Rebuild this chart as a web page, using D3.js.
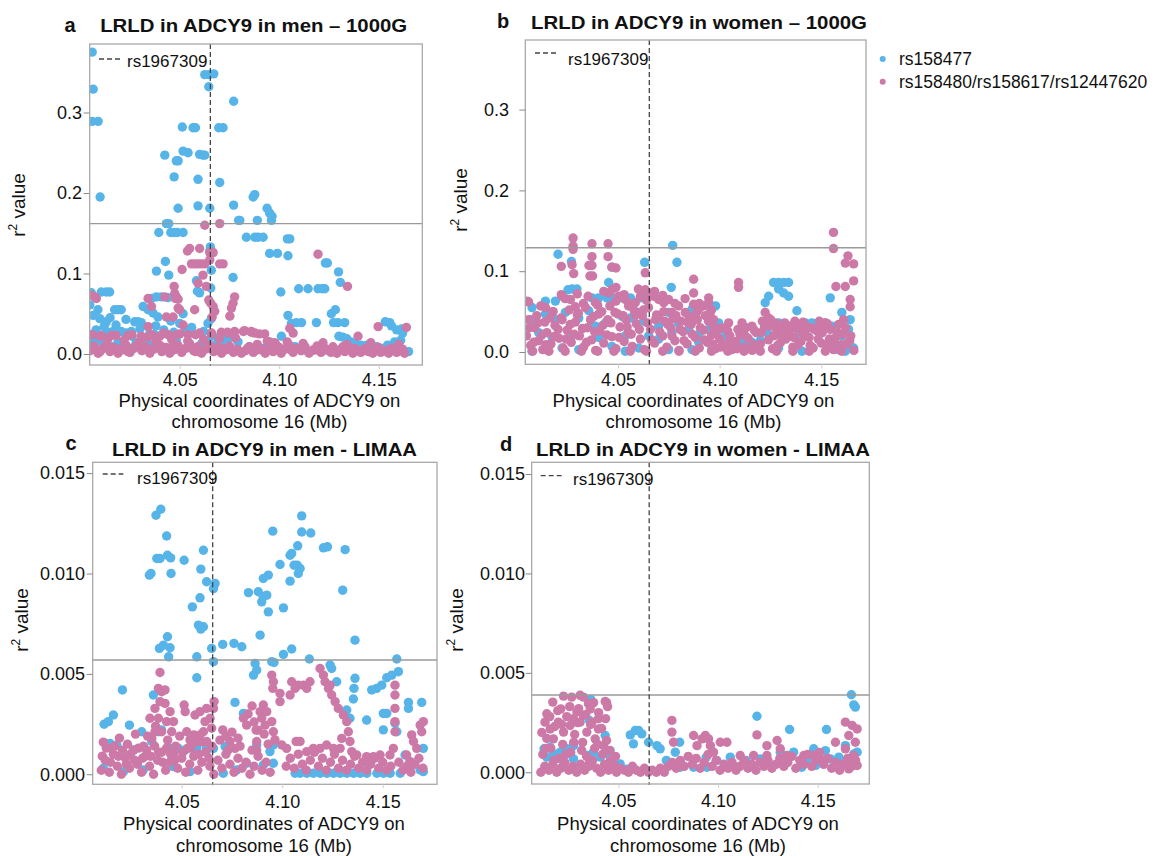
<!DOCTYPE html>
<html><head><meta charset="utf-8">
<script src="https://cdn.jsdelivr.net/npm/d3@7"></script>
<style>
html,body{margin:0;padding:0;background:#fff;}
svg text{font-family:"Liberation Sans",Arial,Helvetica,sans-serif;fill:#111;}
</style></head>
<body><svg id="chart" width="1156" height="856"></svg>
<script>
// ---------------- DATA ----------------
const xTicks = [4.05, 4.10, 4.15];
const yTicks1000G = [0.0, 0.1, 0.2, 0.3];
const yTicksLIMAA = [0.000, 0.005, 0.010, 0.015];
const seriesNames = ["rs158477", "rs158480/rs158617/rs12447620"];
const refSNP = "rs1967309";
const refPos = 4.0654;
const panelTitles = ["LRLD in ADCY9 in men \u2013 1000G", "LRLD in ADCY9 in women \u2013 1000G",
                     "LRLD in ADCY9 in men - LIMAA", "LRLD in ADCY9 in women - LIMAA"];
const panelLetters = ["a", "b", "c", "d"];
const thresholds = [0.162, 0.129, 0.00569, 0.00389];

// panel a : men, 1000G
const menG_rs158477 = [
[4.0060,0.375],[4.0065,0.329],[4.0060,0.289],[4.0090,0.289],[4.0100,0.195],
[4.0626,0.347],[4.0646,0.347],[4.0671,0.348],[4.0646,0.332],[4.0771,0.314],
[4.0513,0.282],[4.0567,0.281],[4.0579,0.281],[4.0696,0.281],[4.0718,0.281],
[4.0425,0.247],[4.0483,0.240],[4.0492,0.240],[4.0517,0.252],[4.0542,0.250],
[4.0600,0.248],[4.0617,0.247],[4.0626,0.247],[4.0472,0.220],[4.0592,0.217],[4.0701,0.213],
[4.0492,0.181],[4.0592,0.184],[4.0651,0.181],[4.0771,0.185],[4.0796,0.166],[4.0802,0.166],
[4.0869,0.195],[4.0877,0.198],[4.0890,0.166],[4.0939,0.181],[4.0952,0.175],[4.0964,0.171],[4.0961,0.166],
[4.0433,0.162],[4.0445,0.162],[4.0395,0.151],[4.0455,0.151],[4.0472,0.151],[4.0488,0.151],[4.0517,0.151],
[4.0835,0.145],[4.0877,0.145],[4.0894,0.145],[4.0919,0.145],[4.1041,0.143],[4.1053,0.143],
[4.0952,0.125],[4.0991,0.125],[4.1044,0.122],[4.0654,0.133],[4.0651,0.128],
[4.0428,0.115],[4.0383,0.103],[4.0445,0.098],[4.0584,0.091],[4.0659,0.104],[4.0768,0.095],
[4.1232,0.113],[4.1242,0.113],[4.1298,0.102],[4.1307,0.089],
[4.1008,0.077],[4.1098,0.081],[4.1145,0.081],[4.1195,0.081],[4.1215,0.081],[4.1229,0.081],
[4.0056,0.076],[4.0106,0.077],[4.0131,0.077],[4.0148,0.077],[4.0589,0.078],[4.0600,0.076],[4.0656,0.082],
[4.0358,0.069],[4.0383,0.071],[4.0408,0.071],[4.0441,0.070],
[4.0316,0.059],[4.0341,0.055],[4.0366,0.051],[4.0391,0.046],
[4.0089,0.055],[4.0173,0.055],[4.0190,0.055],[4.0206,0.055],[4.0065,0.048],[4.0048,0.061],
[4.0098,0.044],[4.0131,0.040],[4.0274,0.040],[4.0291,0.040],[4.0307,0.039],[4.0455,0.041],[4.0517,0.050],
[4.0642,0.038],[4.0659,0.044],[4.1044,0.048],[4.1061,0.038],[4.1086,0.039],[4.1112,0.039],[4.1187,0.039],
[4.1262,0.050],[4.1282,0.055],[4.1273,0.039],[4.1295,0.039],[4.1329,0.039],[4.1555,0.039],[4.1564,0.035],[4.1614,0.031],
[4.1533,0.040],[4.1590,0.030],[4.1620,0.026],
[4.1011,0.022],[4.0139,0.027],[4.0165,0.028],[4.0206,0.028],[4.0232,0.026],[4.0257,0.028],[4.0349,0.025],[4.0374,0.024],[4.0483,0.017],
[4.0080,0.030],[4.0120,0.034],[4.0150,0.045],[4.0180,0.036],[4.0230,0.043],[4.0260,0.022],[4.0300,0.031],[4.0330,0.018],
[4.0380,0.035],[4.0420,0.030],[4.0470,0.027],[4.0500,0.038],[4.0530,0.030],[4.0560,0.033],[4.0620,0.028],[4.0660,0.022],[4.0690,0.020],
[4.0070,0.016],[4.0100,0.016],[4.0130,0.013],[4.0160,0.009],[4.0190,0.015],[4.0220,0.011],[4.0250,0.007],[4.0280,0.013],
[4.0320,0.009],[4.0360,0.011],[4.0400,0.008],[4.0440,0.006],[4.0550,0.011],[4.0610,0.013],[4.0630,0.015],[4.0680,0.011],
[4.0700,0.009],[4.0709,0.015],[4.0730,0.020],[4.0743,0.019],[4.0700,0.020],[4.0793,0.015],[4.0850,0.009],[4.0920,0.007],[4.0980,0.005],
[4.1080,0.009],[4.1130,0.005],[4.1210,0.007],[4.1240,0.005],
[4.1300,0.022],[4.1320,0.021],[4.1340,0.019],[4.1360,0.015],[4.1380,0.013],[4.1410,0.011],[4.1440,0.011],[4.1490,0.009],
[4.1520,0.007],[4.1545,0.011],[4.1580,0.015],[4.1610,0.017],[4.1650,0.003],[4.1470,0.006],[4.1400,0.005],[4.1350,0.006]
];
const menG_rs158480 = [
[4.0626,0.160],[4.0701,0.162],[4.0539,0.128],[4.0550,0.131],[4.0600,0.131],[4.0651,0.126],[4.0668,0.126],
[4.0559,0.112],[4.0575,0.112],[4.0592,0.112],[4.0609,0.112],[4.0626,0.112],[4.0651,0.117],[4.0701,0.112],[4.0718,0.112],
[4.0512,0.105],[4.0617,0.098],[4.0592,0.088],[4.0634,0.084],[4.0472,0.084],[4.1195,0.124],[4.1343,0.084],
[4.0056,0.073],[4.0073,0.071],[4.0081,0.069],[4.0341,0.069],[4.0483,0.071],[4.0492,0.068],
[4.0646,0.067],[4.0656,0.063],[4.0668,0.059],[4.0776,0.071],[4.0768,0.063],[4.0760,0.057],
[4.0492,0.057],[4.0575,0.055],[4.0517,0.036],[4.0467,0.046],[4.0433,0.046],[4.0663,0.046],[4.0676,0.053],
[4.0358,0.059],[4.0425,0.071],[4.0475,0.075],[4.0478,0.069],[4.0500,0.055],
[4.0752,0.047],[4.1053,0.032],[4.1070,0.026],[4.1497,0.034],[4.1639,0.033],[4.1396,0.022],
[4.0056,0.024],[4.0106,0.023],[4.0156,0.023],[4.0240,0.023],[4.0307,0.022],[4.0341,0.034],[4.0358,0.024],[4.0400,0.022],
[4.0441,0.024],[4.0483,0.024],[4.0542,0.024],[4.0600,0.026],[4.0659,0.026],[4.0709,0.027],[4.0743,0.026],[4.0776,0.028],
[4.0826,0.029],[4.0860,0.028],[4.0877,0.026],[4.0927,0.025],[4.0952,0.015],[4.0977,0.014],[4.0944,0.011],
[4.0060,0.024],[4.0100,0.022],[4.0140,0.019],[4.0180,0.023],[4.0220,0.017],[4.0260,0.024],[4.0300,0.016],[4.0340,0.021],
[4.0380,0.015],[4.0420,0.026],[4.0460,0.018],[4.0500,0.025],[4.0540,0.016],[4.0580,0.024],[4.0620,0.018],[4.0660,0.025],
[4.0700,0.019],[4.0740,0.027],[4.0780,0.020],[4.0820,0.028],[4.0860,0.027],[4.0900,0.025],[4.0940,0.016],[4.0980,0.013],
[4.1040,0.015],[4.1120,0.013],[4.1220,0.014],[4.1340,0.012],[4.1460,0.014],[4.1600,0.012],
[4.0050,0.004],[4.0070,0.010],[4.0090,0.001],[4.0110,0.006],[4.0130,0.012],[4.0150,0.003],[4.0170,0.008],[4.0190,0.001],
[4.0210,0.005],[4.0230,0.011],[4.0250,0.002],[4.0270,0.007],[4.0290,0.013],[4.0310,0.004],[4.0330,0.009],[4.0350,0.001],
[4.0370,0.006],[4.0390,0.012],[4.0410,0.003],[4.0430,0.008],[4.0450,0.001],[4.0470,0.005],[4.0490,0.011],[4.0510,0.002],
[4.0530,0.007],[4.0550,0.013],[4.0570,0.004],[4.0590,0.009],[4.0610,0.001],[4.0630,0.006],[4.0650,0.011],[4.0670,0.003],
[4.0690,0.008],[4.0710,0.001],[4.0730,0.005],[4.0750,0.010],[4.0770,0.002],[4.0790,0.006],[4.0810,0.001],[4.0830,0.004],
[4.0850,0.009],[4.0870,0.002],[4.0890,0.012],[4.0910,0.005],[4.0930,0.001],[4.0950,0.008],[4.0970,0.003],[4.0990,0.010],
[4.1010,0.001],[4.1030,0.006],[4.1050,0.011],[4.1070,0.002],[4.1090,0.007],[4.1110,0.004],[4.1130,0.009],[4.1150,0.001],
[4.1170,0.005],[4.1190,0.010],[4.1210,0.002],[4.1230,0.007],[4.1250,0.004],[4.1270,0.009],[4.1290,0.001],[4.1310,0.006],
[4.1330,0.003],[4.1350,0.008],[4.1370,0.001],[4.1390,0.005],[4.1410,0.002],[4.1430,0.007],[4.1450,0.003],[4.1470,0.001],
[4.1490,0.006],[4.1510,0.002],[4.1530,0.004],[4.1550,0.001],[4.1570,0.005],[4.1590,0.002],[4.1610,0.004],[4.1630,0.001],
[4.0060,0.008],[4.0100,0.003],[4.0140,0.010],[4.0200,0.006],[4.0240,0.003],[4.0280,0.010],[4.0340,0.006],[4.0400,0.011],
[4.0460,0.009],[4.0520,0.006],[4.0580,0.003],[4.0640,0.009],[4.0720,0.007],[4.0760,0.005],[4.0840,0.007],[4.0880,0.004],
[4.0940,0.005],[4.1000,0.008],[4.1060,0.005],[4.1120,0.007],[4.1180,0.005],[4.1260,0.002],[4.1320,0.009],[4.1380,0.007],
[4.1440,0.004],[4.1500,0.008],[4.1560,0.007],[4.1620,0.006]
];

// panel b : women, 1000G
const womenG_rs158477 = [
[4.0769,0.132],[4.0790,0.111],[4.0631,0.111],[4.0205,0.121],[4.0271,0.112],[4.0470,0.105],[4.0454,0.086],[4.0762,0.080],
[4.0254,0.077],[4.0274,0.078],[4.0298,0.078],
[4.0372,0.067],[4.0405,0.067],[4.0446,0.067],[4.0470,0.067],[4.0520,0.067],[4.0561,0.067],[4.0610,0.067],[4.0646,0.070],
[4.1265,0.086],[4.1290,0.086],[4.1315,0.086],[4.1339,0.086],[4.1290,0.078],[4.1315,0.073],[4.1339,0.069],[4.1241,0.069],[4.1224,0.061],
[4.0143,0.063],[4.0192,0.063],[4.0077,0.055],[4.0069,0.040],[4.0749,0.049],[4.0782,0.045],[4.0864,0.053],[4.0946,0.061],[4.0980,0.057],
[4.1380,0.051],[4.1544,0.067],[4.1601,0.049],[4.1642,0.040],[4.1659,0.005],
[4.0143,0.047],[4.0192,0.040],[4.0241,0.049],[4.0307,0.042],[4.0356,0.051],[4.0389,0.032],[4.0438,0.036],[4.0520,0.044],
[4.0561,0.042],[4.0602,0.049],[4.0626,0.038],[4.0700,0.032],[4.0798,0.036],[4.0847,0.028],[4.0897,0.022],[4.0946,0.028],[4.0995,0.036],
[4.1290,0.036],[4.1339,0.032],[4.1388,0.034],[4.1421,0.036],[4.1454,0.036],[4.1487,0.034],[4.1519,0.036],[4.1552,0.032],
[4.0077,0.001],[4.0225,0.005],[4.0307,0.003],[4.0470,0.007],[4.0536,0.001],[4.0602,0.005],[4.0700,0.016],[4.0749,0.003],
[4.0864,0.003],[4.0897,0.012],[4.0962,0.005],[4.1044,0.012],[4.1093,0.014],[4.1126,0.014],[4.1159,0.012],[4.1200,0.014],
[4.1290,0.005],[4.1405,0.001],[4.1585,0.003],[4.1618,0.001],[4.1650,0.005],
[4.0110,0.024],[4.0176,0.018],[4.0274,0.020],[4.0405,0.018],[4.0536,0.020],[4.0651,0.020],[4.0765,0.024],[4.1028,0.020],
[4.1241,0.022],[4.1372,0.018],[4.1601,0.020],[4.1634,0.028],[4.1078,0.010],[4.1140,0.006],[4.1180,0.009]
];
const womenG_rs158480 = [
[4.0279,0.141],[4.0279,0.131],[4.0279,0.127],[4.0372,0.134],[4.0451,0.134],[4.0451,0.118],[4.0372,0.118],
[4.0221,0.106],[4.0274,0.108],[4.0282,0.097],[4.0357,0.107],[4.0372,0.107],[4.0362,0.094],[4.0375,0.094],[4.0470,0.105],[4.0490,0.104],[4.0634,0.098],
[4.1560,0.148],[4.1560,0.128],[4.1631,0.119],[4.1618,0.110],[4.1659,0.109],[4.1659,0.088],[4.1572,0.081],[4.1618,0.081],[4.1642,0.065],[4.1642,0.056],
[4.1093,0.086],[4.1093,0.080],[4.0872,0.090],[4.0872,0.073],[4.0221,0.071],[4.0946,0.067],[4.0946,0.061],
[4.0053,0.063],[4.0143,0.055],[4.0225,0.069],[4.0266,0.065],[4.0290,0.056],[4.0353,0.069],[4.0389,0.061],[4.0454,0.073],
[4.0470,0.077],[4.0490,0.080],[4.0503,0.069],[4.0536,0.065],[4.0552,0.057],[4.0585,0.061],[4.0610,0.069],[4.0634,0.077],
[4.0654,0.073],[4.0675,0.069],[4.0700,0.065],[4.0725,0.061],[4.0749,0.065],[4.0765,0.049],[4.0798,0.057],[4.0831,0.049],
[4.0872,0.059],[4.0897,0.053],[4.0921,0.057],[4.0954,0.049],[4.0970,0.040],[4.0995,0.028],[4.1044,0.036],[4.1110,0.036],
[4.1159,0.032],[4.1224,0.049],[4.1241,0.042],[4.1274,0.036],[4.1339,0.032],[4.1360,0.030],[4.1390,0.031],[4.1440,0.030],[4.1490,0.031],[4.1520,0.036],
[4.0060,0.062],[4.0120,0.057],[4.0180,0.050],[4.0240,0.066],[4.0300,0.072],[4.0330,0.060],[4.0400,0.058],[4.0430,0.075],
[4.0490,0.063],[4.0530,0.071],[4.0570,0.059],[4.0600,0.078],[4.0640,0.064],[4.0680,0.075],[4.0720,0.070],[4.0780,0.060],[4.0830,0.066],[4.0900,0.060],[4.0960,0.052],
[4.0050,0.020],[4.0070,0.008],[4.0090,0.030],[4.0110,0.014],[4.0130,0.003],[4.0150,0.024],[4.0170,0.010],[4.0190,0.033],
[4.0210,0.017],[4.0230,0.005],[4.0250,0.027],[4.0270,0.012],[4.0290,0.037],[4.0310,0.020],[4.0330,0.006],[4.0350,0.030],
[4.0370,0.015],[4.0390,0.002],[4.0410,0.026],[4.0430,0.011],[4.0450,0.040],[4.0470,0.019],[4.0490,0.004],[4.0510,0.031],
[4.0530,0.013],[4.0550,0.024],[4.0570,0.007],[4.0590,0.035],[4.0610,0.016],[4.0630,0.003],[4.0660,0.028],[4.0680,0.011],
[4.0700,0.044],[4.0720,0.020],[4.0740,0.006],[4.0760,0.030],[4.0780,0.014],[4.0800,0.002],[4.0820,0.025],[4.0840,0.010],
[4.0860,0.034],[4.0880,0.018],[4.0900,0.005],[4.0920,0.027],[4.0940,0.012],[4.0960,0.021],[4.0980,0.004],[4.1000,0.016],
[4.1020,0.008],[4.1040,0.026],[4.1060,0.003],[4.1080,0.013],[4.1100,0.022],[4.1120,0.006],[4.1140,0.017],[4.1160,0.002],
[4.1180,0.024],[4.1200,0.010],[4.1220,0.031],[4.1240,0.015],[4.1260,0.004],[4.1280,0.028],[4.1300,0.012],[4.1320,0.036],
[4.1340,0.019],[4.1360,0.006],[4.1380,0.029],[4.1400,0.013],[4.1420,0.033],[4.1440,0.018],[4.1460,0.005],[4.1480,0.026],
[4.1500,0.011],[4.1520,0.032],[4.1540,0.016],[4.1560,0.003],[4.1580,0.024],[4.1600,0.009],[4.1620,0.030],[4.1640,0.014],[4.1660,0.002],
[4.0060,0.040],[4.0100,0.045],[4.0140,0.037],[4.0180,0.050],[4.0220,0.042],[4.0260,0.052],[4.0300,0.046],[4.0340,0.055],
[4.0380,0.044],[4.0420,0.050],[4.0460,0.057],[4.0500,0.047],[4.0540,0.040],[4.0580,0.051],[4.0620,0.045],[4.0650,0.055],
[4.0690,0.046],[4.0730,0.038],[4.0770,0.041],[4.0810,0.038],[4.0850,0.043],[4.0890,0.040],[4.0930,0.045],[4.0970,0.031],
[4.1010,0.030],[4.1050,0.020],[4.1090,0.028],[4.1130,0.030],[4.1170,0.027],[4.1210,0.038],[4.1250,0.040],[4.1290,0.022],
[4.1330,0.025],[4.1370,0.038],[4.1410,0.037],[4.1450,0.030],[4.1490,0.038],[4.1530,0.035],[4.1570,0.018],[4.1610,0.040],
[4.0080,0.001],[4.0160,0.001],[4.0240,0.001],[4.0320,0.001],[4.0400,0.001],[4.0480,0.001],[4.0560,0.001],[4.0640,0.001],
[4.0720,0.001],[4.0800,0.001],[4.0880,0.001],[4.0960,0.001],[4.1040,0.001],[4.1120,0.001],[4.1200,0.001],[4.1280,0.001],
[4.1360,0.001],[4.1440,0.001],[4.1520,0.001],[4.1600,0.001],
[4.0065,0.030],[4.0085,0.012],[4.0105,0.036],[4.0125,0.021],[4.0145,0.009],[4.0165,0.042],[4.0185,0.019],[4.0205,0.028],
[4.0225,0.040],[4.0245,0.016],[4.0265,0.034],[4.0285,0.022],[4.0305,0.048],[4.0325,0.029],[4.0345,0.012],[4.0365,0.040],
[4.0385,0.025],[4.0405,0.047],[4.0425,0.033],[4.0445,0.021],[4.0465,0.036],[4.0485,0.049],[4.0505,0.018],[4.0525,0.045],
[4.0545,0.031],[4.0565,0.022],[4.0585,0.046],[4.0605,0.028],[4.0625,0.052],[4.0645,0.036],[4.0665,0.015],[4.0685,0.040],
[4.0705,0.025],[4.0725,0.050],[4.0745,0.034],[4.0765,0.020],[4.0785,0.045],[4.0805,0.028],[4.0825,0.014],[4.0845,0.036],
[4.0865,0.022],[4.0885,0.048],[4.0905,0.030],[4.0925,0.015],[4.0945,0.038],[4.0965,0.010],[4.0985,0.024],[4.1005,0.006],
[4.1045,0.012],[4.1085,0.004],[4.1125,0.020],[4.1165,0.009],[4.1205,0.024],[4.1245,0.032],[4.1265,0.020],[4.1285,0.008],
[4.1305,0.030],[4.1325,0.016],[4.1345,0.027],[4.1365,0.018],[4.1385,0.008],[4.1405,0.024],[4.1425,0.020],[4.1445,0.008],
[4.1465,0.028],[4.1485,0.016],[4.1505,0.024],[4.1525,0.008],[4.1545,0.028],[4.1565,0.012],[4.1585,0.034],[4.1605,0.022],
[4.1625,0.010],[4.1645,0.020]
];

// panel c : men, LIMAA
const menL_rs158477 = [
[4.0372,0.01290],[4.0396,0.01320],[4.0425,0.01187],[4.0376,0.01075],[4.0392,0.01075],[4.0429,0.01091],[4.0445,0.01078],
[4.0512,0.01066],[4.0339,0.00992],[4.0347,0.01000],[4.0447,0.01000],[4.0608,0.01116],[4.0595,0.01022],[4.0624,0.00959],
[4.0666,0.00950],[4.0658,0.00925],[4.0591,0.00879],[4.0553,0.00834],[4.0583,0.00743],[4.0608,0.00735],[4.0595,0.00723],
[4.0429,0.00685],[4.0389,0.00627],[4.0409,0.00643],[4.0442,0.00630],[4.0435,0.00585],[4.0575,0.00585],[4.0649,0.00627],
[4.0658,0.00561],[4.0575,0.00481],[4.0704,0.00647],[4.0760,0.00652],[4.0799,0.00635],
[4.0832,0.00905],[4.0881,0.00909],[4.0906,0.00884],[4.0923,0.00892],[4.0898,0.00859],[4.0931,0.00809],[4.0890,0.00693],
[4.0906,0.00975],[4.0931,0.00992],[4.0953,0.01211],[4.0989,0.01045],[4.1006,0.00829],[4.1039,0.01091],[4.1047,0.01100],
[4.1059,0.01041],[4.1075,0.01041],[4.1089,0.01025],[4.1080,0.01000],[4.1039,0.00962],[4.1077,0.01138],[4.1097,0.01287],
[4.1097,0.01207],[4.1142,0.01202],[4.1205,0.01128],[4.1225,0.01133],[4.1313,0.01119],[4.1301,0.00917],[4.1362,0.00668],
[4.1006,0.00597],[4.1047,0.00624],[4.0948,0.00561],[4.0959,0.00557],[4.1135,0.00574],[4.0865,0.00552],[4.0873,0.00519],
[4.0857,0.00494],[4.1238,0.00544],[4.1246,0.00527],[4.1271,0.00461],[4.1362,0.00478],[4.1357,0.00428],
[4.1570,0.00574],[4.1578,0.00511],[4.1545,0.00494],[4.1520,0.00481],[4.1495,0.00444],[4.1470,0.00428],[4.1445,0.00420],
[4.1354,0.00375],[4.1321,0.00320],[4.1337,0.00279],[4.1420,0.00270],[4.1503,0.00303],[4.1520,0.00303],[4.1628,0.00358],
[4.1628,0.00328],[4.1694,0.00358],[4.1503,0.00221],[4.1561,0.00254],[4.1570,0.00212],
[4.0205,0.00420],[4.0114,0.00249],[4.0135,0.00262],[4.0160,0.00295],[4.0240,0.00245],[4.0301,0.00212],[4.0359,0.00395],
[4.0765,0.00358],[4.0807,0.00303],[4.0351,0.00163],[4.0384,0.00212],[4.0400,0.00221],
[4.0119,0.00154],[4.0143,0.00154],[4.0177,0.00146],[4.0260,0.00121],[4.0442,0.00129],[4.0483,0.00129],[4.0517,0.00121],
[4.0558,0.00146],[4.0575,0.00129],[4.0624,0.00129],[4.0658,0.00129],[4.0716,0.00138],[4.0873,0.00146],[4.0939,0.00113],[4.0956,0.00146],
[4.1064,0.00005],[4.1089,0.00005],[4.1122,0.00005],[4.1155,0.00005],[4.1189,0.00005],[4.1222,0.00005],[4.1255,0.00005],
[4.1288,0.00005],[4.1321,0.00005],[4.1355,0.00005],[4.1388,0.00005],[4.1421,0.00005],[4.1471,0.00005],[4.1504,0.00005],
[4.1537,0.00005],[4.1587,0.00005],[4.0906,0.00046],[4.0956,0.00055],[4.1702,0.00129],[4.1644,0.00046],[4.1686,0.00022],
[4.1702,0.00013],[4.1611,0.00096],[4.1636,0.00063],
[4.0110,0.00030],[4.0210,0.00013],[4.0309,0.00022],[4.0459,0.00038],[4.0541,0.00013],[4.0707,0.00005],[4.0774,0.00022],[4.0823,0.00055]
];
const menL_rs158480 = [
[4.0392,0.00507],[4.0384,0.00428],[4.0400,0.00411],[4.0417,0.00420],[4.0342,0.00279],[4.0367,0.00328],[4.0392,0.00362],
[4.0417,0.00353],[4.0442,0.00312],[4.0425,0.00262],[4.0400,0.00212],[4.0459,0.00262],[4.0450,0.00212],[4.0384,0.00279],
[4.0367,0.00212],[4.0351,0.00179],[4.0512,0.00345],[4.0517,0.00312],[4.0566,0.00295],[4.0591,0.00312],[4.0616,0.00262],
[4.0608,0.00212],[4.0591,0.00196],[4.0624,0.00328],[4.0641,0.00279],[4.0561,0.00196],[4.0624,0.00163],[4.0649,0.00229],
[4.0661,0.00362],[4.0658,0.00328],[4.0704,0.00221],[4.0740,0.00163],[4.0765,0.00129],[4.0807,0.00279],[4.0823,0.00245],
[4.0873,0.00163],[4.0873,0.00121],[4.0890,0.00312],[4.0898,0.00279],[4.0906,0.00345],[4.0923,0.00312],[4.0915,0.00245],
[4.0948,0.00494],[4.0956,0.00461],[4.0953,0.00428],[4.0989,0.00403],[4.0989,0.00362],[4.0948,0.00262],[4.0956,0.00212],
[4.0964,0.00171],[4.0998,0.00146],[4.1022,0.00129],[4.1047,0.00461],[4.1064,0.00428],[4.1080,0.00444],[4.1105,0.00444],
[4.1138,0.00461],[4.1122,0.00428],[4.1039,0.00395],[4.1188,0.00527],[4.1205,0.00494],[4.1213,0.00461],[4.1230,0.00428],
[4.1246,0.00395],[4.1263,0.00362],[4.1279,0.00328],[4.1304,0.00295],[4.1321,0.00262],[4.1329,0.00212],[4.1337,0.00163],
[4.1238,0.00444],[4.1069,0.00163],[4.1089,0.00163],[4.1122,0.00113],[4.1155,0.00129],[4.1188,0.00129],[4.1221,0.00146],
[4.1255,0.00129],[4.1288,0.00129],[4.1296,0.00179],[4.1346,0.00113],[4.1371,0.00096],[4.1420,0.00088],[4.1454,0.00088],
[4.1487,0.00096],[4.1536,0.00096],[4.1553,0.00129],[4.1561,0.00444],[4.1561,0.00395],[4.1561,0.00328],[4.1561,0.00262],
[4.1561,0.00212],[4.1644,0.00196],[4.1653,0.00163],[4.1669,0.00129],[4.1686,0.00245],[4.1694,0.00212],[4.1702,0.00262],
[4.1619,0.00096],[4.1636,0.00063],[4.0525,0.00212],[4.0541,0.00171],[4.0830,0.00300],[4.0850,0.00340],[4.0860,0.00260],
[4.0880,0.00220],[4.0720,0.00190],[4.0750,0.00210],[4.0780,0.00180],
[4.0110,0.00160],[4.0150,0.00130],[4.0190,0.00180],[4.0230,0.00150],[4.0270,0.00200],[4.0310,0.00140],[4.0330,0.00190],
[4.0370,0.00240],[4.0430,0.00170],[4.0470,0.00140],[4.0490,0.00190],[4.0530,0.00130],[4.0570,0.00160],[4.0650,0.00140],
[4.0690,0.00170],[4.0730,0.00120],[4.0790,0.00140],[4.0850,0.00120],[4.0870,0.00220],[4.0910,0.00200],[4.0930,0.00150],
[4.0105,0.00090],[4.0125,0.00130],[4.0145,0.00060],[4.0165,0.00140],[4.0185,0.00090],[4.0205,0.00120],[4.0225,0.00050],
[4.0245,0.00100],[4.0265,0.00070],[4.0285,0.00130],[4.0305,0.00080],[4.0325,0.00120],[4.0345,0.00090],[4.0365,0.00140],
[4.0385,0.00110],[4.0405,0.00060],[4.0425,0.00130],[4.0445,0.00100],[4.0465,0.00070],[4.0505,0.00110],[4.0545,0.00130],
[4.0585,0.00100],[4.0605,0.00160],[4.0635,0.00080],
[4.0100,0.00020],[4.0120,0.00070],[4.0140,0.00010],[4.0160,0.00100],[4.0180,0.00040],[4.0200,0.00000],[4.0220,0.00080],
[4.0240,0.00030],[4.0260,0.00120],[4.0280,0.00050],[4.0300,0.00010],[4.0320,0.00090],[4.0340,0.00040],[4.0360,0.00000],
[4.0380,0.00070],[4.0400,0.00110],[4.0420,0.00020],[4.0440,0.00060],[4.0460,0.00100],[4.0480,0.00030],[4.0500,0.00080],
[4.0520,0.00010],[4.0540,0.00050],[4.0560,0.00090],[4.0580,0.00020],[4.0600,0.00060],[4.0620,0.00110],[4.0640,0.00040],
[4.0660,0.00000],[4.0680,0.00070],[4.0700,0.00030],[4.0720,0.00100],[4.0740,0.00050],[4.0760,0.00010],[4.0780,0.00080],
[4.0800,0.00030],[4.0820,0.00060],[4.0840,0.00000],[4.0860,0.00040],[4.0880,0.00090],[4.0900,0.00020],[4.0920,0.00060],
[4.0940,0.00010],[4.1020,0.00040],[4.1040,0.00080],[4.1060,0.00030],[4.1080,0.00100],[4.1100,0.00050],[4.1120,0.00020],
[4.1140,0.00070],[4.1160,0.00110],[4.1180,0.00040],[4.1200,0.00080],[4.1220,0.00020],[4.1240,0.00060],[4.1260,0.00100],
[4.1280,0.00030],[4.1300,0.00070],[4.1320,0.00020],[4.1340,0.00050],[4.1360,0.00090],[4.1380,0.00030],[4.1400,0.00060],
[4.1420,0.00020],[4.1440,0.00050],[4.1460,0.00080],[4.1480,0.00030],[4.1500,0.00060],[4.1520,0.00020],[4.1540,0.00040],
[4.1580,0.00060],[4.1600,0.00020],[4.1620,0.00040],[4.1640,0.00010],[4.1660,0.00050],[4.1680,0.00080],[4.1700,0.00030]
];

// panel d : women, LIMAA
const womenL_rs158477 = [
[4.1669,0.00390],[4.1681,0.00339],[4.1689,0.00328],[4.0361,0.00365],[4.0354,0.00261],[4.1195,0.00282],[4.1359,0.00215],
[4.1544,0.00215],[4.0559,0.00188],[4.0584,0.00210],[4.0601,0.00210],[4.0617,0.00193],[4.0433,0.00185],[4.0575,0.00143],
[4.0651,0.00151],[4.0693,0.00134],[4.0709,0.00118],[4.0807,0.00151],[4.0785,0.00101],[4.0458,0.00109],[4.0445,0.00092],
[4.0126,0.00118],[4.0157,0.00126],[4.0173,0.00092],[4.0140,0.00076],[4.0207,0.00101],[4.0240,0.00118],[4.0274,0.00134],
[4.0224,0.00050],[4.0274,0.00067],[4.0341,0.00084],[4.0374,0.00101],[4.0408,0.00076],[4.1606,0.00076],[4.1639,0.00134],
[4.1681,0.00092],[4.1698,0.00101],[4.1664,0.00067],[4.1480,0.00118],[4.1539,0.00109],[4.1564,0.00067],[4.1446,0.00067],
[4.1212,0.00067],[4.1312,0.00101],[4.1379,0.00101],[4.1329,0.00034],[4.0810,0.00025],[4.0877,0.00025],[4.0944,0.00025],
[4.1044,0.00025],[4.1095,0.00025],[4.1178,0.00025],[4.0994,0.00059],[4.1061,0.00076],[4.0508,0.00042],[4.0540,0.00015],
[4.0740,0.00060],[4.0940,0.00075],[4.1140,0.00060],[4.1250,0.00045],[4.1420,0.00025],[4.1490,0.00035]
];
const womenL_rs158480 = [
[4.0224,0.00383],[4.0265,0.00378],[4.0307,0.00387],[4.0324,0.00378],[4.0170,0.00353],[4.0210,0.00319],[4.0140,0.00294],
[4.0433,0.00356],[4.0349,0.00345],[4.0358,0.00319],[4.0131,0.00252],[4.0157,0.00218],[4.0173,0.00168],[4.0198,0.00252],
[4.0224,0.00202],[4.0257,0.00235],[4.0274,0.00269],[4.0291,0.00303],[4.0307,0.00252],[4.0324,0.00286],[4.0341,0.00202],
[4.0366,0.00252],[4.0383,0.00168],[4.0399,0.00269],[4.0399,0.00218],[4.0425,0.00134],[4.0768,0.00261],[4.0768,0.00202],
[4.0776,0.00151],[4.0877,0.00185],[4.0894,0.00134],[4.0919,0.00168],[4.0936,0.00185],[4.0952,0.00168],[4.0961,0.00134],
[4.0977,0.00101],[4.1011,0.00151],[4.1044,0.00151],[4.1195,0.00188],[4.1245,0.00134],[4.1296,0.00160],[4.1312,0.00118],
[4.1639,0.00252],[4.1673,0.00235],[4.1698,0.00218],[4.1656,0.00185],[4.1689,0.00151],[4.1639,0.00118],[4.1681,0.00084],
[4.1698,0.00034],[4.1656,0.00017],[4.1589,0.00151],[4.1111,0.00084],[4.1178,0.00084],[4.1245,0.00084],[4.1346,0.00084],
[4.1430,0.00084],[4.1480,0.00084],[4.1513,0.00067],
[4.0120,0.00090],[4.0140,0.00170],[4.0160,0.00120],[4.0180,0.00230],[4.0200,0.00070],[4.0220,0.00140],[4.0240,0.00280],
[4.0260,0.00100],[4.0280,0.00190],[4.0300,0.00320],[4.0320,0.00150],[4.0340,0.00080],[4.0360,0.00240],[4.0380,0.00120],
[4.0400,0.00300],[4.0420,0.00090],[4.0440,0.00160],[4.0460,0.00060],
[4.0115,0.00200],[4.0135,0.00120],[4.0155,0.00280],[4.0175,0.00060],[4.0195,0.00310],[4.0215,0.00240],[4.0235,0.00090],
[4.0255,0.00330],[4.0275,0.00150],[4.0295,0.00250],[4.0315,0.00110],[4.0335,0.00290],[4.0355,0.00050],[4.0375,0.00350],
[4.0395,0.00140],[4.0415,0.00220],[4.0435,0.00270],[4.0455,0.00110],[4.0475,0.00040],[4.0485,0.00080],[4.0440,0.00350],[4.0445,0.00330],
[4.0110,0.00000],[4.0130,0.00030],[4.0150,0.00010],[4.0170,0.00040],[4.0190,0.00000],[4.0210,0.00020],[4.0230,0.00050],
[4.0250,0.00010],[4.0270,0.00030],[4.0290,0.00000],[4.0310,0.00040],[4.0330,0.00010],[4.0350,0.00030],[4.0370,0.00060],
[4.0390,0.00020],[4.0410,0.00000],[4.0430,0.00040],[4.0450,0.00010],[4.0470,0.00030],[4.0490,0.00000],[4.0510,0.00020],
[4.0530,0.00010],[4.0550,0.00000],[4.0570,0.00030],[4.0590,0.00010],[4.0610,0.00000],[4.0630,0.00020],[4.0650,0.00000],
[4.0670,0.00010],[4.0690,0.00000],[4.0710,0.00020],[4.0730,0.00000],[4.0750,0.00030],[4.0770,0.00050],[4.0790,0.00020],
[4.0810,0.00060],[4.0830,0.00030],[4.0850,0.00080],[4.0870,0.00040],[4.0890,0.00070],[4.0910,0.00020],[4.0930,0.00050],
[4.0950,0.00090],[4.0970,0.00030],[4.0990,0.00060],[4.1010,0.00010],[4.1030,0.00040],[4.1050,0.00020],[4.1070,0.00050],
[4.1090,0.00010],[4.1110,0.00030],[4.1130,0.00060],[4.1150,0.00020],[4.1170,0.00040],[4.1190,0.00010],[4.1210,0.00050],
[4.1230,0.00030],[4.1250,0.00060],[4.1270,0.00020],[4.1290,0.00040],[4.1310,0.00070],[4.1330,0.00030],[4.1350,0.00050],
[4.1370,0.00080],[4.1390,0.00020],[4.1410,0.00060],[4.1430,0.00040],[4.1450,0.00090],[4.1470,0.00030],[4.1490,0.00060],
[4.1510,0.00100],[4.1530,0.00040],[4.1550,0.00070],[4.1570,0.00020],[4.1590,0.00050],[4.1610,0.00010],[4.1630,0.00040],
[4.1650,0.00070],[4.1670,0.00030],[4.1690,0.00060]
];

// ---------------- LAYOUT (pixels, not data) ----------------
const layout = [
 {box:[89.7,44,422.3,365], xd:[4.00477,4.1719], yd:[-0.01366,0.3851], fmt:".1f", yt:yTicks1000G,
  letter:[70,32], title:[253.7,32,307], ytlX:82, ylab:[25,205], xtlY:386, xlab:[259.5,407,428], leg:[99,120,59,127,67]},
 {box:[525.3,40,866,364.3], xd:[4.0044,4.17199], yd:[-0.01522,0.3861], fmt:".1f", yt:yTicks1000G,
  letter:[503,28], title:[699,29,336], ytlX:509, ylab:[467,200], xtlY:386, xlab:[693.5,407,428], leg:[535,558,53,568,65]},
 {box:[92.7,462.3,437,784.3], xd:[4.00572,4.1770], yd:[-0.0005,0.01554], fmt:".3f", yt:yTicksLIMAA,
  letter:[71,450], title:[264.5,456,305], ytlX:85, ylab:[28,620], xtlY:808, xlab:[264,830,852], leg:[102.7,123.3,474,137,484]},
 {box:[531.7,462.3,869.3,784], xd:[4.00642,4.1759], yd:[-0.00059,0.01559], fmt:".3f", yt:yTicksLIMAA,
  letter:[506,451], title:[703,456,334], ytlX:525, ylab:[463,620], xtlY:807, xlab:[698,830,852], leg:[540.7,561.7,475.7,573,485]}
];
const panelBlue = [menG_rs158477, womenG_rs158477, menL_rs158477, womenL_rs158477];
const panelPink = [menG_rs158480, womenG_rs158480, menL_rs158480, womenL_rs158480];

const BLUE = "#56B4E9", PINK = "#CC79A7";
const R = 4.7;
const svg = d3.select("#chart");
const defs = svg.append("defs");

layout.forEach((L, i) => {
  const [x0, y0, x1, y1] = L.box;
  const x = d3.scaleLinear().domain(L.xd).range([x0, x1]);
  const y = d3.scaleLinear().domain(L.yd).range([y1, y0]);
  const g = svg.append("g");
  const cid = "clip" + i;
  defs.append("clipPath").attr("id", cid).append("rect")
    .attr("x", x0).attr("y", y0).attr("width", x1 - x0).attr("height", y1 - y0);

  // points
  const pg = g.append("g").attr("clip-path", `url(#${cid})`);
  pg.selectAll("circle.b").data(panelBlue[i]).join("circle").attr("class", "b")
    .attr("cx", d => x(d[0])).attr("cy", d => y(d[1])).attr("r", R).attr("fill", BLUE);
  pg.selectAll("circle.p").data(panelPink[i]).join("circle").attr("class", "p")
    .attr("cx", d => x(d[0])).attr("cy", d => y(d[1])).attr("r", R).attr("fill", PINK);

  // threshold line
  g.append("line").attr("x1", x0).attr("x2", x1).attr("y1", y(thresholds[i])).attr("y2", y(thresholds[i]))
    .attr("stroke", "#9a9a9a").attr("stroke-width", 1.4);
  // reference SNP dashed line
  g.append("line").attr("x1", x(refPos)).attr("x2", x(refPos)).attr("y1", y0).attr("y2", y1 + 1)
    .attr("stroke", "#444").attr("stroke-width", 1.3).attr("stroke-dasharray", "5,3");

  // box
  g.append("rect").attr("x", x0).attr("y", y0).attr("width", x1 - x0).attr("height", y1 - y0)
    .attr("fill", "none").attr("stroke", "#a8a8a8").attr("stroke-width", 1.3);

  // y axis
  const yAxis = d3.axisLeft(y).tickValues(L.yt).tickFormat(d3.format(L.fmt)).tickSize(6).tickPadding(2);
  const ya = g.append("g").attr("transform", `translate(${x0},0)`).call(yAxis);
  ya.select(".domain").remove();
  ya.selectAll(".tick line").attr("stroke", "#888");
  ya.selectAll(".tick text").attr("font-size", 18).attr("fill", "#111")
    .attr("font-family", '"Liberation Sans",Arial,sans-serif').attr("x", L.ytlX - x0);

  // x axis
  const xAxis = d3.axisBottom(x).tickValues(xTicks).tickFormat(d3.format(".2f")).tickSize(4).tickPadding(2);
  const xa = g.append("g").attr("transform", `translate(0,${y1})`).call(xAxis);
  xa.select(".domain").remove();
  xa.selectAll(".tick line").attr("stroke", "#cfcfcf");
  xa.selectAll(".tick text").attr("font-size", 18).attr("fill", "#111")
    .attr("font-family", '"Liberation Sans",Arial,sans-serif').attr("dy", null).attr("y", L.xtlY - y1);

  // panel letter and title
  g.append("text").attr("x", L.letter[0]).attr("y", L.letter[1]).attr("text-anchor", "middle")
    .attr("font-size", 20).attr("font-weight", "bold").text(panelLetters[i]);
  g.append("text").attr("x", L.title[0]).attr("y", L.title[1]).attr("text-anchor", "middle")
    .attr("font-size", 18).attr("font-weight", "bold")
    .attr("textLength", L.title[2]).attr("lengthAdjust", "spacingAndGlyphs").text(panelTitles[i]);

  // y label
  const yl = g.append("text").attr("transform", `translate(${L.ylab[0]},${L.ylab[1]}) rotate(-90)`)
    .attr("text-anchor", "middle").attr("font-size", 19);
  yl.append("tspan").text("r");
  yl.append("tspan").attr("font-size", 12).attr("dy", -8).text("2");
  yl.append("tspan").attr("dy", 8).text(" value");

  // x label (two lines)
  g.append("text").attr("x", L.xlab[0]).attr("y", L.xlab[1]).attr("text-anchor", "middle")
    .attr("font-size", 18.5).text("Physical coordinates of ADCY9 on");
  g.append("text").attr("x", L.xlab[0]).attr("y", L.xlab[2]).attr("text-anchor", "middle")
    .attr("font-size", 18.5).text("chromosome 16 (Mb)");

  // in-plot legend for reference SNP
  g.append("line").attr("x1", L.leg[0]).attr("x2", L.leg[1]).attr("y1", L.leg[2]).attr("y2", L.leg[2])
    .attr("stroke", "#444").attr("stroke-width", 1.3).attr("stroke-dasharray", "5,3");
  g.append("text").attr("x", L.leg[3]).attr("y", L.leg[4]).attr("font-size", 17).text(refSNP);
});

// series legend
const lg = svg.append("g");
const legItems = [{name: seriesNames[0], c: BLUE, y: 59}, {name: seriesNames[1], c: PINK, y: 81.7}];
lg.selectAll("circle").data(legItems).join("circle")
  .attr("cx", 882.7).attr("cy", d => d.y).attr("r", 3).attr("fill", d => d.c);
lg.selectAll("text").data(legItems).join("text")
  .attr("x", 899).attr("y", d => d.y + 6).attr("font-size", 17.5).text(d => d.name);
</script></body></html>
